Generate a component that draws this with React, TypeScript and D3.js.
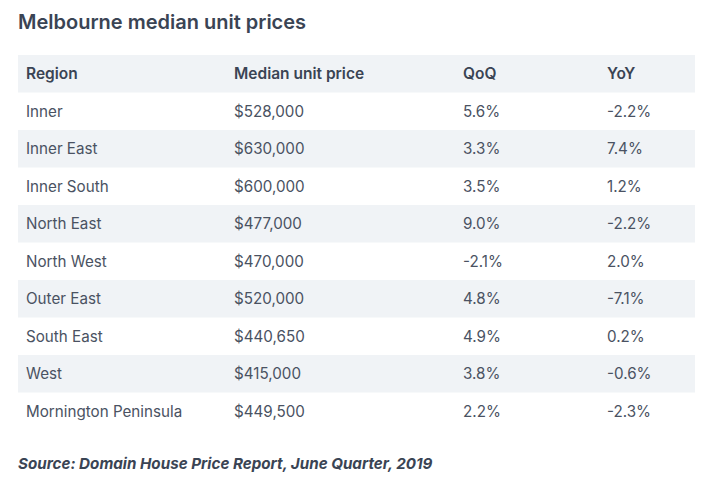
import React from "react";
import * as d3 from "d3";

const title = "Melbourne median unit prices";
const headers = ["Region", "Median unit price", "QoQ", "YoY"];
const regions = ["Inner", "Inner East", "Inner South", "North East", "North West", "Outer East", "South East", "West", "Mornington Peninsula"];
const prices = [528000, 630000, 600000, 477000, 470000, 520000, 440650, 415000, 449500];
const qoq = [5.6, 3.3, 3.5, 9.0, -2.1, 4.8, 4.9, 3.8, 2.2];
const yoy = [-2.2, 7.4, 1.2, -2.2, 2.0, -7.1, 0.2, -0.6, -2.3];
const source = "Source: Domain House Price Report, June Quarter, 2019";

const W = 714, H = 485;
const FONT = "Inter, 'Open Sans', sans-serif";

export default function App() {
  const rowKeys = ["header", ...regions];
  const y = d3.scaleBand<string>().domain(rowKeys).range([55, 430]).padding(0);
  const colX = d3.scaleOrdinal<string, number>().domain(headers).range([26, 234, 463, 607]);
  const fmtPrice = (v: number) => "$" + d3.format(",")(v);
  const fmtPct = (v: number) => d3.format(".1f")(v).replace("−", "-") + "%";
  const text = "#4a5262";
  return (
    <svg width={W} height={H} style={{ position: "absolute", left: 0, top: 0, background: "#fff" }}>
      <text x={18} y={29} fontFamily={FONT} fontWeight={600} fontSize={20} fill="#3a4454">{title}</text>
      {rowKeys.map((k, i) =>
        i % 2 === 0 ? (
          <rect key={k} x={18} y={y(k)!} width={677} height={y.bandwidth()} fill="#f0f3f6" />
        ) : null
      )}
      {headers.map((h) => (
        <text key={h} x={colX(h)} y={y("header")! + y.bandwidth() / 2} dy="0.35em" fontFamily={FONT} fontWeight={600} fontSize={15.5} fill="#3a4454">{h}</text>
      ))}
      {regions.map((r, i) => {
        const cy = y(r)! + y.bandwidth() / 2;
        const cells = [r, fmtPrice(prices[i]), fmtPct(qoq[i]), fmtPct(yoy[i])];
        return cells.map((c, j) => (
          <text key={r + j} x={colX(headers[j])} y={cy} dy="0.35em" fontFamily={FONT} fontSize={15.2} fill={text}>{c}</text>
        ));
      })}
      <text x={18} y={469} fontFamily={FONT} fontStyle="italic" fontWeight={700} fontSize={15.2} fill="#3a4454">{source}</text>
    </svg>
  );
}
